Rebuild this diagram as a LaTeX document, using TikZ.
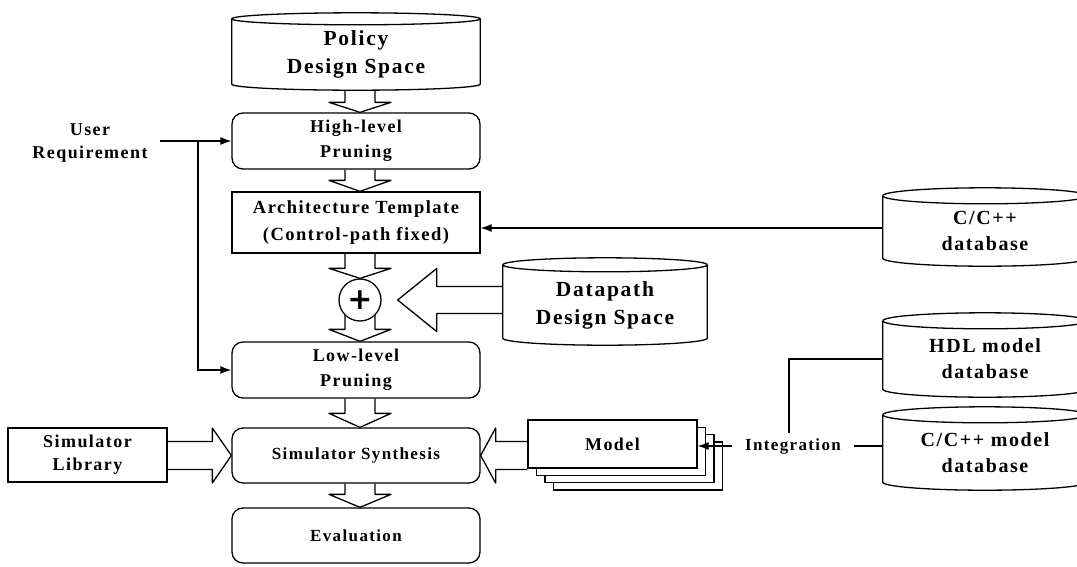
\documentclass[tikz,border=0pt]{standalone}
\usepackage{fontspec}
\setmainfont{Liberation Serif}[LetterSpace=8]
\newfontfamily\plusfont{DejaVu Sans}
\usetikzlibrary{arrows.meta,calc}

\newcommand\fbig{\bfseries\fontsize{21.5}{28}\selectfont}
\newcommand\fdb{\bfseries\fontsize{20}{26}\selectfont}
\newcommand\fmid{\bfseries\fontsize{18}{25}\selectfont}
\newcommand\farch{\bfseries\fontsize{18.5}{27}\selectfont}
\newcommand\fsm{\bfseries\fontsize{17}{22}\selectfont}
\newcommand\fuser{\bfseries\fontsize{18}{23}\selectfont}

% cylinder outline around a node: north = centre line of top ellipse, south = lowest point of bottom arc
\newcommand\drawcyl[2]{%
 \draw[line] let \p1=(#1.north west), \p2=(#1.south east), \n1={(\x2-\x1)/2} in
  (\x1,\y1) -- (\x1,\y2+#2) arc[start angle=180,end angle=360,x radius={\n1*1pt},y radius=#2] -- (\x2,\y1)
  (\x1+\n1,\y1) ellipse[x radius={\n1*1pt},y radius=#2];
}
% vertical block arrow: #1 source point, #2 tip point, #3 head length
\newcommand\vblock[3]{%
 \draw[line] let \p1=(#1), \p2=(#2) in
  (\x2-15pt,\y1) -- (\x2-15pt,\y2+#3) -- (\x2-31pt,\y2+#3) -- (\x2,\y2)
  -- (\x2+31pt,\y2+#3) -- (\x2+15pt,\y2+#3) -- (\x2+15pt,\y1);
}
% horizontal block arrow: #1 source, #2 tip, #3 signed head length, #4 head half height, #5 shaft half height
\newcommand\hblock[5]{%
 \draw[line] let \p1=(#1), \p2=(#2) in
  (\x1,\y2+#5) -- (\x2 #3,\y2+#5) -- (\x2 #3,\y2+#4) -- (\x2,\y2)
  -- (\x2 #3,\y2-#4) -- (\x2 #3,\y2-#5) -- (\x1,\y2-#5);
}

\tikzset{
 line/.style={line width=1.3pt, line join=round},
 conn/.style={line width=1.3pt, -{Latex[length=11pt,width=8pt]}},
 rbox/.style={draw, line width=1.3pt, rounded corners=11pt, minimum width=248pt, inner sep=0pt, align=center, font=\fmid},
 sbox/.style={draw, line width=1.3pt, inner sep=0pt, align=center},
 cyl/.style={inner sep=0pt, align=center},
 txt/.style={inner sep=0pt, align=center},
}

\begin{document}
\begin{tikzpicture}[x=1pt,y=-1pt]
\useasboundingbox (0,0) rectangle (1077,566);
\clip (0,0) rectangle (1077,566);

% main column
\node[cyl, minimum width=248pt, minimum height=71pt, font=\fbig] (policy) at (356,54.5) {Policy\\Design Space};
\drawcyl{policy}{6pt}
\node[rbox, minimum height=56pt] (high) at (356,141) {High-level\\Pruning};
\node[sbox, minimum width=248pt, minimum height=61pt, font=\farch] (arch) at (356,222.5) {Architecture Template\\(Control-path fixed)};
\node[draw, circle, line width=1.3pt, minimum size=42pt, inner sep=0pt] (plus) at (360,300) {\plusfont\bfseries\fontsize{30}{30}\selectfont +};
\node[rbox, minimum height=56pt] (low) at (356,370) {Low-level\\Pruning};
\node[rbox, minimum height=55pt, font=\fsm] (synth) at (356,455.5) {Simulator Synthesis};
\node[rbox, minimum height=55pt, font=\fsm] (eval) at (356,535.5) {Evaluation};

% block arrows down the column
\vblock{[xshift=4pt]policy.south}{[xshift=4pt]high.north}{10pt}
\vblock{[xshift=4pt]high.south}{[xshift=4pt]arch.north}{11pt}
\vblock{[xshift=4pt]arch.south}{plus.north}{10pt}
\vblock{[yshift=-15pt]plus.center}{[xshift=4pt]low.north}{12pt}
\vblock{[xshift=4pt]low.south}{[xshift=4pt]synth.north}{14pt}
\vblock{[xshift=4pt]synth.south}{[xshift=4pt]eval.north}{13pt}

% user requirement
\node[txt, font=\fuser] (user) at (90,143) {User\\Requirement};
\coordinate (ujoin) at (198,141);
\draw[conn] ([xshift=12pt]high.west -| user.east) -- (high.west);
\draw[conn] (ujoin) |- (low.west);

% datapath
\node[cyl, minimum width=204pt, minimum height=80pt, font=\fbig] (data) at (605,305) {Datapath\\Design Space};
\drawcyl{data}{7pt}
\hblock{data.west}{[xshift=16pt]plus.east}{+39pt}{31.5pt}{13.5pt}

% C/C++ database
\node[cyl, minimum width=204pt, minimum height=70pt, font=\fdb] (ccdb) at (985,231) {C/C++\\database};
\drawcyl{ccdb}{8pt}
\draw[conn] ([yshift=3pt]ccdb.west) -- ([yshift=3pt]ccdb.west -| arch.east);

% simulator library
\node[sbox, minimum width=159pt, minimum height=54pt, font=\fuser] (lib) at (87.5,455) {Simulator\\Library};
\hblock{lib.east}{synth.west}{-19pt}{27.5pt}{14pt}

% model stack
\node[sbox, fill=white, minimum width=169pt, minimum height=48pt] (model3) at (638,466) {};
\node[sbox, fill=white, minimum width=169pt, minimum height=48pt] (model2) at (629.5,458.6) {};
\node[sbox, fill=white, minimum width=169pt, minimum height=48pt] (model1) at (621,451.3) {};
\node[sbox, fill=white, minimum width=169pt, minimum height=48pt, font=\fuser] (model) at (612.5,444) {Model};
\hblock{model.west}{synth.east}{+15pt}{27.5pt}{14pt}

% model databases
\node[cyl, minimum width=204pt, minimum height=76pt, font=\fdb] (hdl) at (985,359) {HDL model\\database};
\drawcyl{hdl}{8pt}
\node[cyl, minimum width=204pt, minimum height=75pt, font=\fdb] (ccm) at (985,452.5) {C/C++ model\\database};
\drawcyl{ccm}{8pt}

% integration
\node[txt, inner xsep=13pt, inner ysep=5pt, font=\fsm] (integ) at (793,446) {Integration};
\draw[conn] (integ.west) -- (integ.west -| model.east);
\draw[line] (integ.east) -- (integ.east -| ccm.west);
\draw[line] (hdl.west) -| ([xshift=-4pt]integ.north);
\end{tikzpicture}
\end{document}
